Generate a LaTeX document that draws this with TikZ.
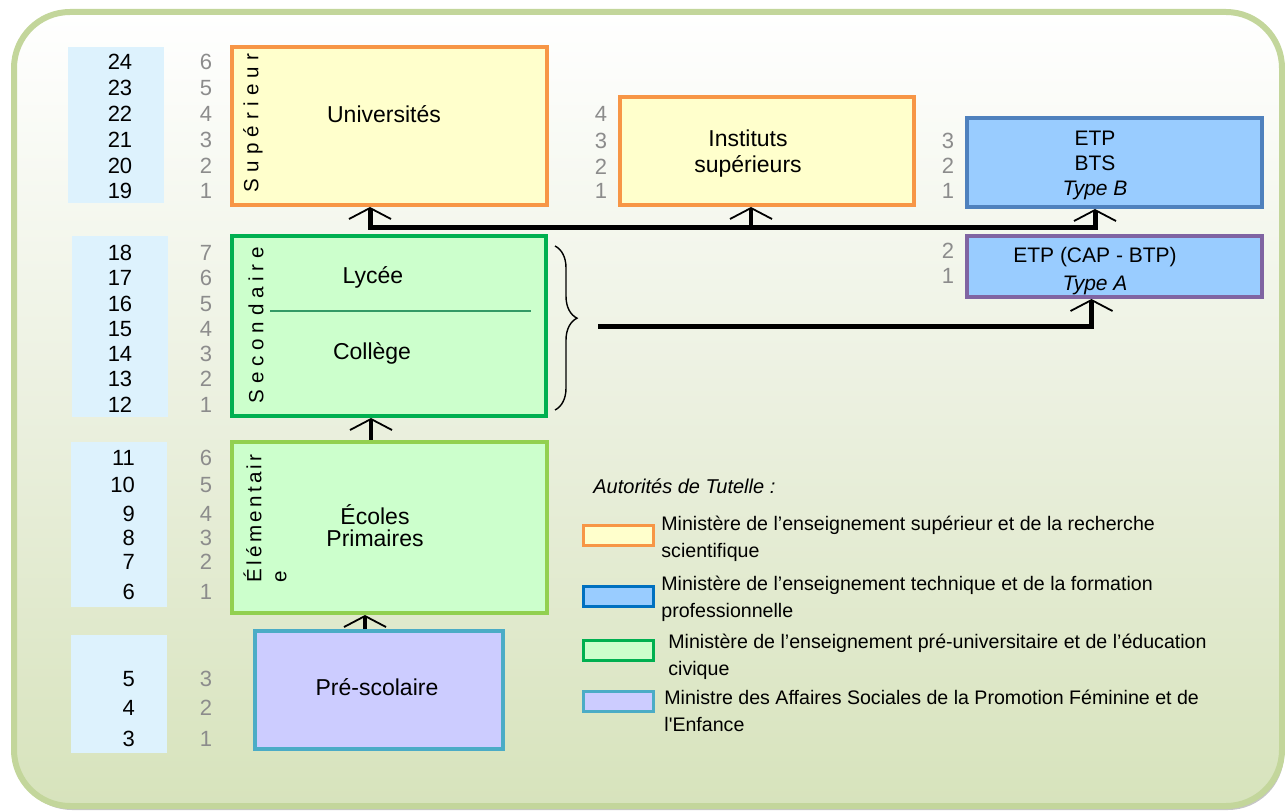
\documentclass[tikz,border=0pt]{standalone}
\usepackage{fontspec}
\setmainfont{Liberation Sans}
\usetikzlibrary{arrows.meta,decorations.pathreplacing}
\definecolor{framegreen}{HTML}{C3D69B}
\definecolor{bgmid}{HTML}{EBF0DF}
\definecolor{bgbottom}{HTML}{D7E3BC}
\definecolor{agefill}{HTML}{DDF2FD}
\definecolor{lvlgray}{HTML}{8C8C8C}
\definecolor{supfill}{HTML}{FFFFCC}
\definecolor{supdraw}{HTML}{F79646}
\definecolor{etpfill}{HTML}{99CCFF}
\definecolor{etpdraw}{HTML}{4F81BD}
\definecolor{etpAdraw}{HTML}{8064A2}
\definecolor{secfill}{HTML}{CCFFCC}
\definecolor{secdraw}{HTML}{00B050}
\definecolor{elemdraw}{HTML}{92D050}
\definecolor{prefill}{HTML}{CCCCFF}
\definecolor{predraw}{HTML}{4BACC6}
\definecolor{divgreen}{HTML}{339966}
\definecolor{legblue}{HTML}{0070C0}
\tikzset{
  agebox/.style={fill=agefill, minimum width=48pt, inner sep=0pt},
  level/.style={draw, line width=2pt, inner sep=0pt},
  age/.style={font=\fontsize{11}{12}\selectfont},
  lvl/.style={font=\fontsize{11}{12}\selectfont, text=lvlgray},
  lbl/.style={font=\fontsize{11.5}{13}\selectfont, align=center},
  vlbl/.style={font=\fontsize{10.3}{12.5}\selectfont\addfontfeatures{LetterSpace=#1}, rotate=90, inner sep=0pt},
  legtxt/.style={font=\fontsize{9.8}{13.5}\selectfont, align=left, anchor=west, inner sep=0pt},
  swatch/.style={draw, line width=1.5pt, minimum width=35pt, minimum height=10pt, inner sep=0pt},
  uparr/.style={line width=2pt, -{Straight Barb[width=21pt,length=5.5pt,line width=0.9pt]}},
  busarr/.style={line width=2.5pt, {Straight Barb[width=21pt,length=5.5pt,line width=0.9pt]}-{Straight Barb[width=21pt,length=5.5pt,line width=0.9pt]}},
}
\begin{document}
\begin{tikzpicture}[x=0.5pt,y=-0.5pt]
  \useasboundingbox (0,0) rectangle (1285,812);
  % frame
  \fill[gray!45, rounded corners=28pt] (16,300) rectangle (1284,810);
  \shade[top color=white, bottom color=bgbottom, middle color=bgmid, rounded corners=28pt] (14,12) rectangle (1282,806);
  \draw[framegreen, line width=3pt, rounded corners=28pt] (14,12) rectangle (1282,806);

  % age columns
  \node[agebox, minimum height=78pt] (ageSup) at (116,125) {};
  \node[agebox, minimum height=90.5pt] (ageSec) at (119.5,326.5) {};
  \node[agebox, minimum height=82.5pt] (ageElem) at (119,524.5) {};
  \node[agebox, minimum height=59pt] (agePre) at (119,694) {};
  \foreach \a/\l/\y in {24/6/62,23/5/88,22/4/114,21/3/140,20/2/166,19/1/191,
                        18/7/253,17/6/278,16/5/304,15/4/329,14/3/354,13/2/379,12/1/405}{
    \node[age] (a\a) at (120,\y) {\a};
    \node[lvl] (l\a) at (206,\y) {\l};
  }
  \foreach \a/\l/\y in {11/6/458,10/5/485,9/4/514,8/3/538,7/2/562,6/1/592,5/3/679,4/2/708,3/1/739}{
    \node[age, anchor=east] (a\a) at (142,\y) {\a};
    \node[lvl] (l\a) at (206,\y) {\l};
  }
  \foreach \l/\y in {4/114,3/141,2/167,1/191}
    \node[lvl] (ins\l) at (601,\y) {\l};
  \foreach \l/\y in {3/141,2/166,1/191}
    \node[lvl] (etpB\l) at (948,\y) {\l};
  \foreach \l/\y in {2/251,1/276}
    \node[lvl] (etpA\l) at (948,\y) {\l};

  % levels
  \node[level, draw=supdraw, fill=supfill, minimum width=157.5pt, minimum height=79pt] (univ) at (389.5,126) {};
  \node[lbl] (univTxt) at (384,114) {Universités};
  \node[vlbl=30] (supTxt) at (253,123) {Supérieur};

  \node[level, draw=supdraw, fill=supfill, minimum width=147pt, minimum height=54pt] (inst) at (767,151) {};
  \node[lbl] (instTxt) at (748,154) {Instituts\\supérieurs};

  \node[level, draw=etpdraw, fill=etpfill, minimum width=147.5pt, minimum height=44.5pt] (etpB) at (1114.5,162.5) {};
  \node[lbl, font=\fontsize{10.5}{12.5}\selectfont] (etpBTxt) at (1095,165) {ETP\\BTS\\\textit{Type B}};

  \node[level, draw=etpAdraw, fill=etpfill, minimum width=147.5pt, minimum height=30.5pt] (etpA) at (1114.5,266.5) {};
  \node[lbl, font=\fontsize{10.5}{14}\selectfont] (etpATxt) at (1095,271) {ETP (CAP - BTP)\\\textit{Type A}};

  \node[level, draw=secdraw, fill=secfill, minimum width=157pt, minimum height=90pt] (second) at (389,326) {};
  \draw[divgreen, line width=0.7pt] (270,311) -- (531,311);
  \node[lbl] (lycee) at (373,277) {Lycée};
  \node[lbl] (college) at (372,353) {Collège};
  \node[vlbl=28] (secTxt) at (256,325) {Secondaire};

  \node[level, draw=elemdraw, fill=secfill, minimum width=157.5pt, minimum height=85.5pt] (elem) at (389.5,527.5) {};
  \node[lbl, font=\fontsize{11.5}{11}\selectfont] (elemTxt) at (375,526) {Écoles\\Primaires};
  \node[vlbl=16, align=left, anchor=north west] (elemV) at (243,583) {Élémentair\\e};

  \node[level, draw=predraw, fill=prefill, minimum width=124pt, minimum height=59pt] (pre) at (379,690) {};
  \node[lbl] (preTxt) at (377,687) {Pré-scolaire};

  % connectors
  \draw[uparr] ([xshift=-7pt]pre.north) -- ([xshift=-7pt]pre.north |- elem.south);
  \draw[uparr] ([xshift=-9.25pt]elem.north) -- ([xshift=-9.25pt]elem.north |- second.south);
  \coordinate (busL) at (370,228);
  \coordinate (busM) at (751,228);
  \coordinate (busR) at (1095,228);
  \draw[busarr] (busL |- univ.south) -- (busL) -- (busR) -- (busR |- etpB.south);
  \draw[uparr] (busM) -- (busM |- inst.south);
  \draw[line width=0.7pt, decorate, decoration={brace, amplitude=11pt, aspect=0.44}]
    ([xshift=3.5pt,yshift=-6pt]second.north east) -- ([xshift=3.5pt,yshift=4pt]second.south east);
  \coordinate (braceTip) at (598,327);
  \draw[uparr, line width=2.5pt] (braceTip) -| ([xshift=-11.5pt]etpA.south);

  % legend
  \node[font=\fontsize{10}{12}\selectfont\itshape, anchor=west, inner sep=0pt] (legTitle) at (593,486) {Autorités de Tutelle :};
  \node[swatch, draw=supdraw, fill=supfill] (sw1) at (618,535.5) {};
  \node[swatch, draw=legblue, fill=etpfill] (sw2) at (618,596) {};
  \node[swatch, draw=secdraw, fill=secfill] (sw3) at (618,650.5) {};
  \node[swatch, draw=predraw, fill=prefill] (sw4) at (618,701) {};
  \node[legtxt] (leg1) at (661,538.5) {Ministère de l’enseignement supérieur et de la recherche\\scientifique};
  \node[legtxt] (leg2) at (661,599) {Ministère de l’enseignement technique et de la formation\\professionnelle};
  \node[legtxt] (leg3) at (668,656.5) {Ministère de l’enseignement pré-universitaire et de l’éducation\\civique};
  \node[legtxt] (leg4) at (664,711) {Ministre des Affaires Sociales de la Promotion Féminine et de\\l\textquotesingle Enfance};
\end{tikzpicture}
\end{document}
